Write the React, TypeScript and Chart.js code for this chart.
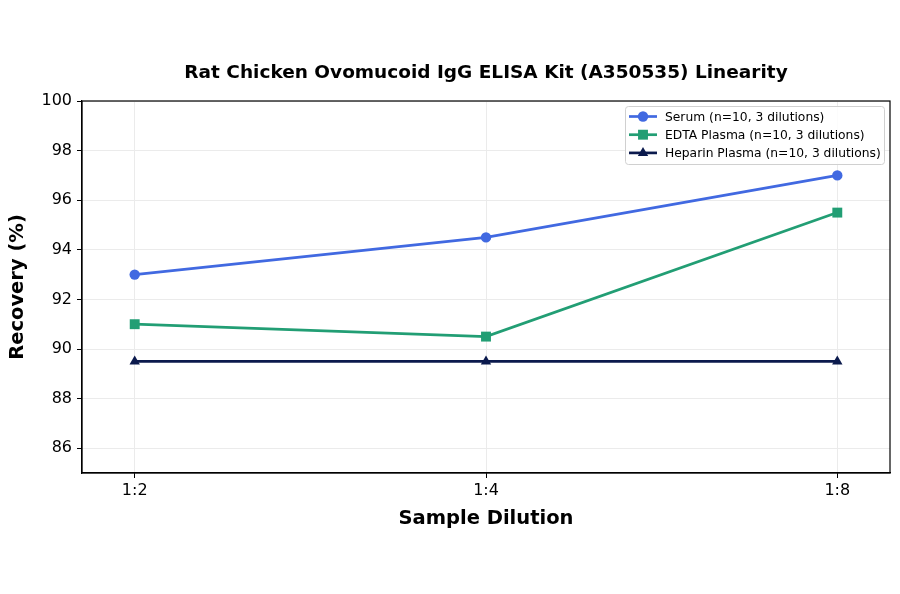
import React, { useEffect, useRef } from "react";
import { Chart, registerables } from "chart.js";
import { drawPoint } from "chart.js/helpers";

Chart.register(...registerables);

const dilutions = ["1:2", "1:4", "1:8"];
const serum = [93, 94.5, 97];
const edtaPlasma = [91, 90.5, 95.5];
const heparinPlasma = [89.5, 89.5, 89.5];
const yTicks = [86, 88, 90, 92, 94, 96, 98, 100];

const seriesLabels = [
  "Serum (n=10, 3 dilutions)",
  "EDTA Plasma (n=10, 3 dilutions)",
  "Heparin Plasma (n=10, 3 dilutions)",
];

const FONT = "'DejaVu Sans', sans-serif";

// frame around the plot + matplotlib-like legend with line and marker
const framePlugin = {
  id: "frame",
  afterDraw(chart: any) {
    const { ctx, chartArea } = chart;
    ctx.save();
    ctx.strokeStyle = "#000";
    ctx.lineWidth = 1.2;
    ctx.strokeRect(chartArea.left, chartArea.top, chartArea.right - chartArea.left, chartArea.bottom - chartArea.top);

    const boxW = 259;
    const boxH = 58;
    const bx = chartArea.right - 6 - boxW;
    const by = chartArea.top + 5;
    ctx.fillStyle = "rgba(255,255,255,0.85)";
    ctx.strokeStyle = "#d0d0d0";
    ctx.lineWidth = 1;
    ctx.beginPath();
    ctx.roundRect(bx + 0.5, by + 0.5, boxW, boxH, 3);
    ctx.fill();
    ctx.stroke();

    ctx.font = `12.3px ${FONT}`;
    ctx.textBaseline = "middle";
    chart.data.datasets.forEach((ds: any, i: number) => {
      const y = by + 10.5 + i * 18.2;
      const x0 = bx + 4;
      ctx.strokeStyle = ds.borderColor;
      ctx.lineWidth = 2.7;
      ctx.beginPath();
      ctx.moveTo(x0, y);
      ctx.lineTo(x0 + 28, y);
      ctx.stroke();
      ctx.fillStyle = ds.borderColor;
      drawPoint(ctx, { pointStyle: ds.pointStyle, radius: ds.pointRadius, borderWidth: 0, rotation: 0 } as any, x0 + 14, y);
      ctx.fillStyle = "#000";
      ctx.fillText(ds.label, x0 + 36, y + 1);
    });
    ctx.restore();
  },
};

const App = () => {
  const canvasRef = useRef<HTMLCanvasElement>(null);
  const chartRef = useRef<Chart | null>(null);

  useEffect(() => {
    if (!canvasRef.current) return;
    chartRef.current?.destroy();

    const toPoints = (vals: number[]) => vals.map((v, i) => ({ x: i, y: v }));

    const makeSet = (label: string, vals: number[], color: string, style: string, radius: number) => ({
      label,
      data: toPoints(vals),
      borderColor: color,
      backgroundColor: color,
      borderWidth: 2.7,
      pointStyle: style,
      pointRadius: radius,
      pointHoverRadius: radius,
      pointBorderWidth: 0,
      tension: 0,
    });

    chartRef.current = new Chart(canvasRef.current, {
      type: "line",
      data: {
        datasets: [
          makeSet(seriesLabels[0], serum, "#4169e1", "circle", 5.2),
          makeSet(seriesLabels[1], edtaPlasma, "#229e74", "rect", 7),
          makeSet(seriesLabels[2], heparinPlasma, "#0b1a4d", "triangle", 6),
        ] as any,
      },
      options: {
        responsive: false,
        animation: false,
        layout: { padding: { left: 0, right: 10, top: 0, bottom: 0 } },
        plugins: {
          legend: { display: false },
          tooltip: { enabled: false },
          title: {
            display: true,
            fullSize: false,
            text: "Rat Chicken Ovomucoid IgG ELISA Kit (A350535) Linearity",
            color: "#000",
            font: { family: FONT, size: 18.5, weight: "bold" },
            padding: { top: 62, bottom: 16.8 },
          },
        },
        scales: {
          x: {
            type: "linear",
            min: -0.15,
            max: 2.15,
            afterBuildTicks: (scale: any) => {
              scale.ticks = dilutions.map((_, i) => ({ value: i }));
            },
            afterFit: (scale: any) => {
              scale.height = 121;
            },
            ticks: {
              callback: (v: any) => dilutions[v] ?? "",
              color: "#000",
              font: { family: FONT, size: 16 },
              padding: 3,
              maxRotation: 0,
            },
            grid: { color: "#ebebeb", tickColor: "#000", tickLength: 5, lineWidth: 1 },
            border: { color: "#000", width: 1.2 },
            title: {
              display: true,
              text: "Sample Dilution",
              color: "#000",
              font: { family: FONT, size: 19.5, weight: "bold" },
              padding: { top: 0, bottom: 63.3 },
            },
          },
          y: {
            min: 85,
            max: 100,
            afterBuildTicks: (scale: any) => {
              scale.ticks = yTicks.map((v) => ({ value: v }));
            },
            afterFit: (scale: any) => {
              scale.width = 82;
            },
            ticks: {
              color: "#000",
              font: { family: FONT, size: 16 },
              padding: 5,
            },
            grid: { color: "#ebebeb", tickColor: "#000", tickLength: 5, lineWidth: 1 },
            border: { color: "#000", width: 1.2 },
            title: {
              display: true,
              text: "Recovery (%)",
              color: "#000",
              font: { family: FONT, size: 19.5, weight: "bold" },
              padding: { top: 6, bottom: 0 },
            },
          },
        },
      } as any,
      plugins: [framePlugin],
    });

    return () => chartRef.current?.destroy();
  }, []);

  return (
    <div style={{ position: "absolute", left: 0, top: 0, width: 900, height: 594, background: "#fff" }}>
      <canvas ref={canvasRef} width={900} height={594} style={{ display: "block" }} />
    </div>
  );
};

export default App;
